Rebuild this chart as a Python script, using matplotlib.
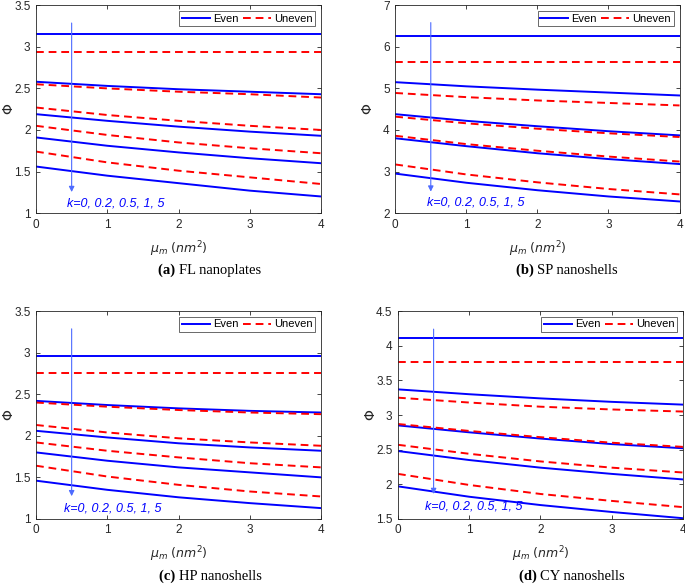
import matplotlib.pyplot as plt

mu = [0, 1, 2, 3, 4]

# panel (a) FL nanoplates
fl_even = [
    [3.15, 3.15, 3.15, 3.15, 3.15],
    [2.58, 2.53, 2.49, 2.46, 2.43],
    [2.19, 2.11, 2.04, 1.98, 1.93],
    [1.91, 1.81, 1.73, 1.66, 1.60],
    [1.56, 1.45, 1.36, 1.27, 1.20],
]
fl_uneven = [
    [2.94, 2.94, 2.94, 2.94, 2.94],
    [2.55, 2.50, 2.46, 2.43, 2.39],
    [2.27, 2.18, 2.11, 2.05, 2.00],
    [2.05, 1.94, 1.85, 1.78, 1.72],
    [1.74, 1.61, 1.51, 1.43, 1.35],
]

# panel (b) SP nanoshells
sp_even = [
    [6.25, 6.25, 6.25, 6.25, 6.25],
    [5.15, 5.05, 4.97, 4.90, 4.83],
    [4.38, 4.22, 4.09, 3.97, 3.87],
    [3.80, 3.61, 3.44, 3.30, 3.18],
    [2.95, 2.73, 2.55, 2.40, 2.28],
]
sp_uneven = [
    [5.64, 5.64, 5.64, 5.64, 5.64],
    [4.89, 4.79, 4.71, 4.65, 4.59],
    [4.32, 4.16, 4.03, 3.92, 3.83],
    [3.86, 3.66, 3.50, 3.36, 3.24],
    [3.17, 2.93, 2.74, 2.58, 2.45],
]

# panel (c) HP nanoshells
hp_even = [
    [2.96, 2.96, 2.96, 2.96, 2.96],
    [2.42, 2.37, 2.33, 2.30, 2.28],
    [2.06, 1.98, 1.91, 1.86, 1.82],
    [1.80, 1.70, 1.62, 1.56, 1.50],
    [1.46, 1.35, 1.26, 1.19, 1.13],
]
hp_uneven = [
    [2.76, 2.76, 2.76, 2.76, 2.76],
    [2.40, 2.35, 2.31, 2.28, 2.26],
    [2.13, 2.04, 1.97, 1.92, 1.88],
    [1.92, 1.82, 1.74, 1.67, 1.62],
    [1.64, 1.51, 1.41, 1.33, 1.27],
]

# panel (d) CY nanoshells
cy_even = [
    [4.11, 4.11, 4.11, 4.11, 4.11],
    [3.37, 3.30, 3.24, 3.19, 3.15],
    [2.85, 2.75, 2.66, 2.58, 2.52],
    [2.48, 2.35, 2.24, 2.15, 2.07],
    [1.97, 1.82, 1.70, 1.60, 1.51],
]
cy_uneven = [
    [3.76, 3.76, 3.76, 3.76, 3.76],
    [3.25, 3.18, 3.12, 3.08, 3.05],
    [2.87, 2.77, 2.68, 2.60, 2.54],
    [2.57, 2.44, 2.33, 2.24, 2.17],
    [2.15, 1.99, 1.86, 1.76, 1.67],
]

panels = [
    ('(a)', 'FL nanoplates', fl_even, fl_uneven, (1, 3.5), 0.5, (3.32, 1.22), (0.44, 1.12)),
    ('(b)', 'SP nanoshells', sp_even, sp_uneven, (2, 7), 1, (6.65, 2.45), (0.44, 2.25)),
    ('(c)', 'HP nanoshells', hp_even, hp_uneven, (1, 3.5), 0.5, (3.32, 1.24), (0.39, 1.12)),
    ('(d)', 'CY nanoshells', cy_even, cy_uneven, (1.5, 4.5), 0.5, (4.28, 1.82), (0.38, 1.68)),
]

positions = [
    [0.0526, 0.637, 0.416, 0.354],
    [0.577, 0.637, 0.415, 0.354],
    [0.0526, 0.116, 0.416, 0.354],
    [0.581, 0.116, 0.416, 0.354],
]

plt.rcParams['font.family'] = 'Liberation Sans'
fig = plt.figure(figsize=(6.85, 5.87), dpi=100)

for (tag, name, even, uneven, ylim, ystep, arr, kpos), pos in zip(panels, positions):
    ax = fig.add_axes(pos)
    for i in range(5):
        ax.plot(mu, even[i], color='#0000ff', lw=1.4,
                label='Even' if i == 0 else None)
        ax.plot(mu, uneven[i], color='#ff0000', lw=1.4, ls=(0, (4, 2.5)),
                label='Uneven' if i == 0 else None)
    ax.set_xlim(0, 4)
    ax.set_ylim(*ylim)
    ax.set_xticks([0, 1, 2, 3, 4])
    yt = []
    v = ylim[0]
    while v <= ylim[1] + 1e-9:
        yt.append(round(v, 2))
        v += ystep
    ax.set_yticks(yt)
    ax.set_yticklabels([('%g' % t) for t in yt])
    ax.tick_params(direction='in', labelsize=8.5, length=3, width=0.6,
                   top=True, right=True, colors='#262626', pad=4)
    for s in ax.spines.values():
        s.set_linewidth(0.6)
        s.set_color('#262626')

    ax.annotate('', xy=(0.5, arr[1]), xytext=(0.5, arr[0]),
                arrowprops=dict(arrowstyle='-|>', color='#4d6bff', lw=0.8,
                                mutation_scale=8))
    ax.text(kpos[0], kpos[1], 'k=0, 0.2, 0.5, 1, 5', color='#0000ff',
            style='italic', fontsize=9, va='center')

    ax.set_xlabel(r'$\mu_m$ $(nm^2)$', fontsize=9, color='#262626', labelpad=6)
    ax.set_ylabel(r'$\mathit{\Phi}$', fontsize=10, color='#262626')
    ax.yaxis.set_label_coords(-0.07, 0.5)

    leg = ax.legend(loc='upper right', ncol=2, fontsize=8, frameon=True,
                    fancybox=False, edgecolor='#262626', handlelength=2.5,
                    columnspacing=0.4, handletextpad=0.3, borderpad=0.25,
                    borderaxespad=0.5)
    leg.get_frame().set_linewidth(0.6)

    cx = pos[0] + pos[2] / 2
    cy = pos[1] - 0.098
    fig.text(cx, cy, tag + ' ', ha='right', va='center', fontsize=10.5,
             fontweight='bold', family='Liberation Serif')
    fig.text(cx, cy, name, ha='left', va='center', fontsize=10.5,
             family='Liberation Serif')

fig.savefig('out.png', dpi=100)
